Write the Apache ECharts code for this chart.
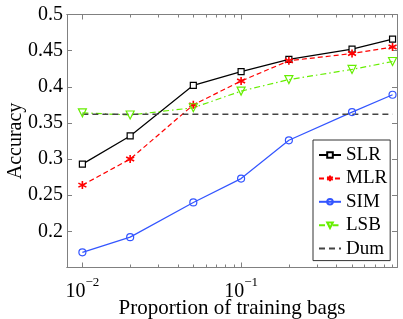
<!DOCTYPE html>
<html>
<head>
<meta charset="utf-8">
<script src="https://cdn.jsdelivr.net/npm/echarts@6/dist/echarts.min.js"></script>
<style>
html,body{margin:0;padding:0;background:#fff;}
#c{width:403px;height:319px;}
</style>
</head>
<body>
<div id="c"></div>
<script>
const xValues = [0.01, 0.02, 0.05, 0.1, 0.2, 0.5, 0.9];
const slr = [0.293, 0.332, 0.402, 0.421, 0.438, 0.452, 0.466];
const mlr = [0.264, 0.300, 0.375, 0.408, 0.436, 0.446, 0.455];
const sim = [0.171, 0.192, 0.240, 0.273, 0.326, 0.365, 0.389];
const lsb = [0.364, 0.361, 0.371, 0.394, 0.410, 0.424, 0.435];
const dum = [0.362, 0.362, 0.362, 0.362, 0.362, 0.362, 0.362];
const seriesNames = ['SLR', 'MLR', 'SIM', 'LSB', 'Dum'];
const majorXTicks = [0.01, 0.1];
const minorXTicks = [0.02,0.03,0.04,0.05,0.06,0.07,0.08,0.09,0.2,0.3,0.4,0.5,0.6,0.7,0.8,0.9];

const FONT = 'Liberation Serif';
const AX = '#808080';
const pairs = ys => xValues.map((x, i) => [x, ys[i]]);
const asterisk = 'path://M0,-10L0,10M-8.66,-5L8.66,5M-8.66,5L8.66,-5';

function xAxisDef(pos, ticks, len, labels) {
  return {
    type: 'log', logBase: 10, min: 0.008, max: 0.96, position: pos,
    axisLine: {show: true, onZero: false, lineStyle: {color: AX, width: 1}},
    axisTick: {show: true, inside: true, length: len, customValues: ticks, lineStyle: {color: AX, width: 1}},
    minorTick: {show: false},
    splitLine: {show: false},
    axisLabel: labels ? {
      show: true, customValues: majorXTicks, margin: 4,
      formatter: v => '{b|10}{s|−' + Math.round(-Math.log10(v)) + '}',
      rich: {
        b: {fontFamily: FONT, fontSize: 20, color: '#000', verticalAlign: 'bottom', lineHeight: 30},
        s: {fontFamily: FONT, fontSize: 13, color: '#000', verticalAlign: 'top', lineHeight: 13, padding: [5, 0, 0, 0]}
      }
    } : {show: false}
  };
}
function yAxisDef(pos, labels) {
  return {
    type: 'value', min: 0.15, max: 0.5, interval: 0.05, position: pos,
    axisLine: {show: true, onZero: false, lineStyle: {color: AX, width: 1}},
    axisTick: {show: true, inside: true, length: 5, lineStyle: {color: AX, width: 1}},
    splitLine: {show: false},
    axisLabel: labels ? {show: true, showMinLabel: false, margin: 4, fontFamily: FONT, fontSize: 20, color: '#000'} : {show: false},
    name: labels ? 'Accuracy' : '', nameLocation: 'middle', nameGap: 41, nameMoveOverlap: false,
    nameTextStyle: {fontFamily: FONT, fontSize: 20, color: '#000'}
  };
}

const xAxes = [
  Object.assign(xAxisDef('bottom', majorXTicks, 5, true), {
    name: 'Proportion of training bags', nameLocation: 'middle', nameGap: 30, nameMoveOverlap: false,
    nameTextStyle: {fontFamily: FONT, fontSize: 21, color: '#000'}
  }),
  xAxisDef('bottom', minorXTicks, 3, false),
  xAxisDef('top', majorXTicks, 5, false),
  xAxisDef('top', minorXTicks, 3, false)
];

const chart = echarts.init(document.getElementById('c'), null, {renderer: 'canvas'});
chart.setOption({
  animation: false,
  backgroundColor: '#fff',
  grid: {left: 67, right: 6, top: 14.5, bottom: 51.5, containLabel: false, outerBoundsMode: 'none'},
  xAxis: xAxes,
  yAxis: [yAxisDef('left', true), yAxisDef('right', false)],
  legend: {
    orient: 'vertical', left: 313, top: 140,
    data: seriesNames,
    itemWidth: 22, itemHeight: 7, itemGap: 3.4,
    padding: [5, 3, 2, 5],
    borderColor: '#333', borderWidth: 1, backgroundColor: '#fff',
    textStyle: {fontFamily: FONT, fontSize: 19, color: '#000', lineHeight: 20},
    selectedMode: false
  },
  series: [
    {name: 'SLR', type: 'line', data: pairs(slr), symbol: 'rect', symbolSize: 6,
     lineStyle: {color: '#000', width: 1.2}, itemStyle: {color: '#fff', borderColor: '#000', borderWidth: 1.2}},
    {name: 'MLR', type: 'line', data: pairs(mlr), symbol: asterisk, symbolSize: 8,
     lineStyle: {color: '#ff0000', width: 1.2, type: [5, 3]}, itemStyle: {color: 'rgba(0,0,0,0)', borderColor: '#ff0000', borderWidth: 1.6}},
    {name: 'SIM', type: 'line', data: pairs(sim), symbol: 'circle', symbolSize: 7,
     lineStyle: {color: '#3355ff', width: 1.2}, itemStyle: {color: 'rgba(255,255,255,0)', borderColor: '#3355ff', borderWidth: 1.2}},
    {name: 'LSB', type: 'line', data: pairs(lsb), symbol: 'triangle', symbolRotate: 180, symbolSize: 8,
     lineStyle: {color: '#66ee00', width: 1.2, type: [6, 3, 1.5, 3]}, itemStyle: {color: 'rgba(255,255,255,0)', borderColor: '#66ee00', borderWidth: 1.2}},
    {name: 'Dum', type: 'line', data: pairs(dum), symbol: 'circle', showSymbol: false,
     lineStyle: {color: '#444', width: 1.4, type: [6, 4]}, itemStyle: {color: 'rgba(0,0,0,0)', borderWidth: 0}}
  ]
});
</script>
</body>
</html>
